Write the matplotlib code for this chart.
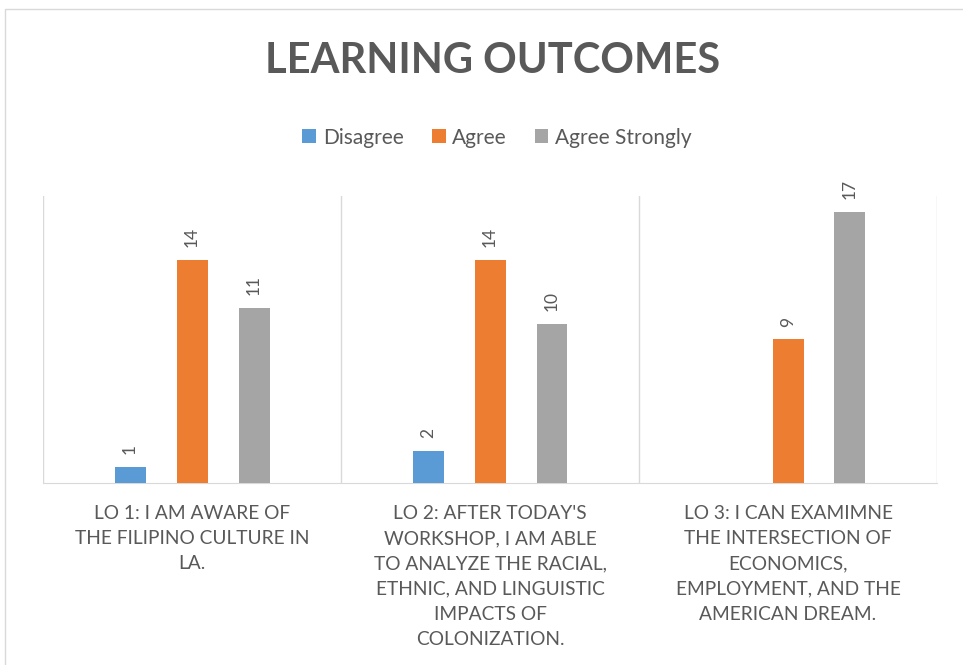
import matplotlib
matplotlib.use("Agg")
import matplotlib.pyplot as plt
from matplotlib.patches import Rectangle
import numpy as np

plt.rcParams["font.family"] = ["Lato", "DejaVu Sans"]

categories = [
    "LO 1: I AM AWARE OF\nTHE FILIPINO CULTURE IN\nLA.",
    "LO 2: AFTER TODAY'S\nWORKSHOP, I AM ABLE\nTO ANALYZE THE RACIAL,\nETHNIC, AND LINGUISTIC\nIMPACTS OF\nCOLONIZATION.",
    "LO 3: I CAN EXAMIMNE\nTHE INTERSECTION OF\nECONOMICS,\nEMPLOYMENT, AND THE\nAMERICAN DREAM.",
]
series_names = ["Disagree", "Agree", "Agree Strongly"]
disagree = [1, 2, 0]
agree = [14, 14, 9]
agree_strongly = [11, 10, 17]
colors = ["#5B9BD5", "#ED7D31", "#A5A5A5"]
TXT = "#595959"


def main():
    fig = plt.figure(figsize=(9.63, 6.65), dpi=100)
    fig.patches.append(Rectangle((0.005, -0.01), 1.0, 0.997, transform=fig.transFigure,
                                 fill=False, edgecolor="#D9D9D9", lw=1))
    ax = fig.add_axes([0.0447, 0.2737, 0.9283, 0.4316])

    x = np.arange(len(categories))
    width = 0.104
    offset = 0.208
    for i, (name, vals) in enumerate(zip(series_names, [disagree, agree, agree_strongly])):
        pos = x + (i - 1) * offset
        ax.bar(pos, vals, width, color=colors[i], label=name, zorder=3)
        for p, v in zip(pos, vals):
            if v == 0:
                continue
            ax.text(p, v + 0.8, str(v), rotation=90, ha="center", va="bottom",
                    fontsize=12.5, color=TXT)

    ax.set_xlim(-0.5, 2.5)
    ax.set_ylim(0, 18)
    ax.set_yticks([])
    ax.set_xticks(x)
    ax.set_xticklabels(categories, fontsize=13.8, color=TXT, linespacing=1.58,
                       va="top", ha="center")
    ax.tick_params(axis="x", length=0, pad=16)
    ax.set_xticks([-0.5, 0.5, 1.5, 2.5], minor=True)
    ax.tick_params(axis="x", which="minor", length=0)
    ax.grid(axis="x", which="minor", color="#D9D9D9", lw=1, zorder=0)
    for s in ["top", "left", "right"]:
        ax.spines[s].set_visible(False)
    ax.spines["bottom"].set_color("#D9D9D9")

    fig.text(0.511, 0.908, "LEARNING OUTCOMES", ha="center", va="center",
             fontsize=30, fontweight="bold", color=TXT)
    fig.legend(loc="center", bbox_to_anchor=(0.516, 0.793), ncol=3, frameon=False,
               fontsize=15, handlelength=0.67, handleheight=0.67, handletextpad=0.3,
               columnspacing=1.35, labelcolor=TXT)

    fig.savefig("out.png", dpi=100)
    plt.close(fig)


if __name__ == "__main__":
    main()
